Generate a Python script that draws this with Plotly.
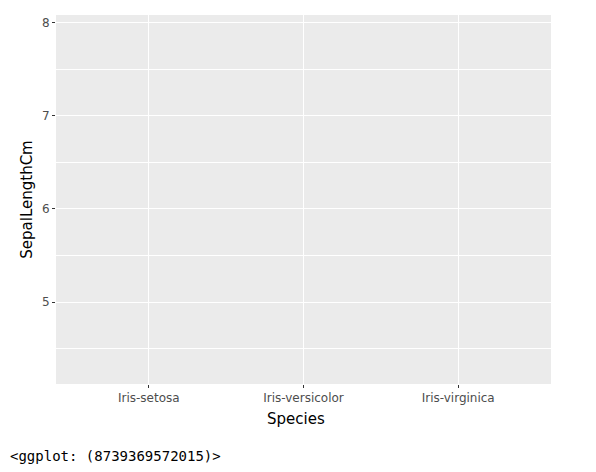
import plotly.graph_objects as go

# iris dataset: species on x, sepal length on y (no geom was added, so nothing is drawn)
species = ["Iris-setosa", "Iris-versicolor", "Iris-virginica"]
sepal_min, sepal_max = 4.3, 7.9
y_ticks = [5, 6, 7, 8]
y_minor = [4.5, 5.5, 6.5, 7.5]
x_title = "Species"
y_title = "SepalLengthCm"
caption = "<ggplot: (8739369572015)>"

# ggplot default expansion: 5% for continuous, 0.6 units for discrete
pad = (sepal_max - sepal_min) * 0.05
y_range = [sepal_min - pad, sepal_max + pad]
x_range = [-0.6, len(species) - 1 + 0.6]

fig = go.Figure()
# invisible trace so the axes know the categories and the data span
fig.add_trace(go.Scatter(
    x=species, y=[sepal_min, (sepal_min + sepal_max) / 2, sepal_max],
    mode="markers", marker=dict(opacity=0), hoverinfo="skip", showlegend=False,
))

grey = "#4d4d4d"
fig.update_layout(
    width=596, height=472,
    margin=dict(l=56, r=45, t=15, b=88),
    paper_bgcolor="white",
    plot_bgcolor="#ebebeb",
    font=dict(family="DejaVu Sans", color="black"),
    showlegend=False,
)
fig.update_xaxes(
    type="category", categoryorder="array", categoryarray=species,
    range=x_range,
    showgrid=True, gridcolor="white", gridwidth=1.4,
    zeroline=False, showline=False,
    ticks="outside", ticklen=3, tickwidth=1.2, tickcolor="#333333",
    tickfont=dict(size=12, color=grey),
)
fig.update_yaxes(
    range=y_range,
    tickvals=y_ticks,
    showgrid=True, gridcolor="white", gridwidth=1.4,
    minor=dict(tickvals=y_minor, showgrid=True, gridcolor="white", gridwidth=0.7, ticks=""),
    zeroline=False, showline=False,
    ticks="outside", ticklen=3, tickwidth=1.2, tickcolor="#333333",
    tickfont=dict(size=12, color=grey),
    title=dict(text=y_title, font=dict(size=15), standoff=5),
)

# x title sits a little left of the panel centre in the original
fig.add_annotation(
    text=x_title, xref="paper", yref="paper",
    x=(295.5 - 56) / 495, y=-(419 - 384) / 369,
    xanchor="center", yanchor="middle", showarrow=False,
    font=dict(size=15, color="black"),
)
fig.add_annotation(
    text=caption.replace("<", "&lt;").replace(">", "&gt;"),
    xref="paper", yref="paper", x=(8 - 56) / 495, y=-72 / 369,
    xanchor="left", yanchor="middle", showarrow=False,
    font=dict(family="DejaVu Sans Mono", size=14, color="black"),
)

# drop the browser's default body margin so the figure sits at the page corner
fig.write_html("out.html", config={"displayModeBar": False},
               post_script="document.body.style.margin='0';")
